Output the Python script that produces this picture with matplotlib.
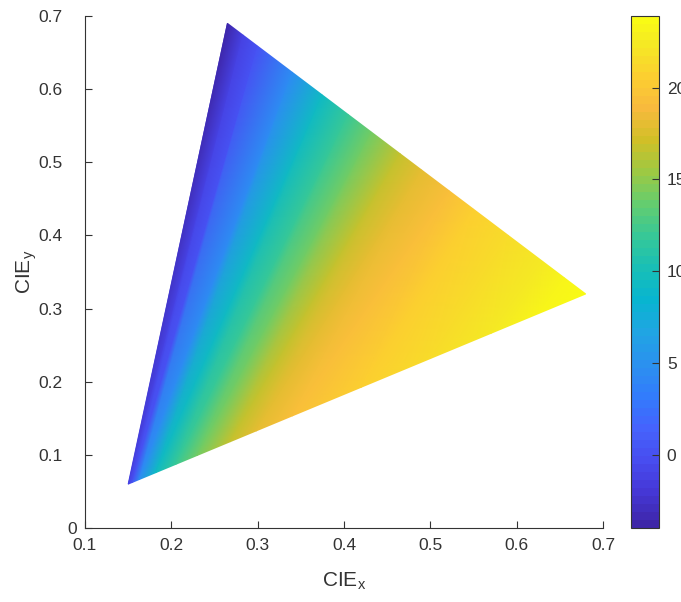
import numpy as np
import matplotlib
matplotlib.use("Agg")
import matplotlib.pyplot as plt
import matplotlib.tri as mtri
import matplotlib.transforms as mtrans
from matplotlib.colors import LinearSegmentedColormap

plt.rcParams['font.family'] = ['Liberation Sans', 'DejaVu Sans']

# gamut triangle (green, red, blue primaries)
green_xy = (0.265, 0.690)
red_xy = (0.680, 0.320)
blue_xy = (0.150, 0.060)

# iso-value lines: where each one meets the
# upper edge (green->red) and the lower edge (blue->red)
top_x = [0.265, 0.283, 0.300, 0.340, 0.375, 0.405, 0.432, 0.465, 0.490, 0.522, 0.550, 0.590, 0.630, 0.655, 0.680]
top_val = [-4.0, -1.0, 0.0, 4.5, 9.5, 12.0, 14.0, 16.5, 18.0, 19.5, 20.5, 21.5, 22.5, 23.3, 23.9]
bot_x = [0.150, 0.1505, 0.155, 0.163, 0.182, 0.205, 0.230, 0.268, 0.298, 0.340, 0.420, 0.500, 0.570, 0.625, 0.680]
bot_val = [-1.0, -1.0, 0.0, 4.5, 9.5, 12.0, 14.0, 16.5, 18.0, 19.5, 20.5, 21.5, 22.5, 23.3, 23.9]

cbar_ticks = [0, 5, 10, 15, 20]
clim = (-4.0, 23.9)

# parula-like colormap
parula_pts = [
    (0.2422, 0.1504, 0.6603), (0.2706, 0.2147, 0.8364), (0.2813, 0.3006, 0.9414),
    (0.2699, 0.3892, 0.9906), (0.1963, 0.4847, 0.9892), (0.1687, 0.5703, 0.9359),
    (0.1248, 0.6459, 0.8883), (0.0297, 0.7082, 0.8163), (0.0964, 0.7500, 0.7120),
    (0.2161, 0.7843, 0.5923), (0.3909, 0.8029, 0.4354), (0.6174, 0.7876, 0.2612),
    (0.8203, 0.7498, 0.1535), (0.9728, 0.7298, 0.2394), (0.9892, 0.8136, 0.1885),
    (0.9597, 0.9135, 0.1423), (0.9769, 0.9839, 0.0805)]
pos = [i * 4 / 63 for i in range(16)] + [1.0]
parula = LinearSegmentedColormap.from_list('parula', list(zip(pos, parula_pts)), N=64)

top_x = np.array(top_x)
bot_x = np.array(bot_x)
top_y = np.interp(top_x, [green_xy[0], red_xy[0]], [green_xy[1], red_xy[1]])
bot_y = np.interp(bot_x, [blue_xy[0], red_xy[0]], [blue_xy[1], red_xy[1]])

n = len(top_x)
px = np.concatenate([top_x, bot_x])
py = np.concatenate([top_y, bot_y])
pv = np.concatenate([top_val, bot_val])
tris = []
for i in range(n - 1):
    tris.append([i, n + i, n + i + 1])
    tris.append([i, n + i + 1, i + 1])
tri = mtri.Triangulation(px, py, np.array(tris))

fig = plt.figure(figsize=(6.81, 6.02), dpi=100)
ax = fig.add_axes([0.1248, 0.1229, 0.7607, 0.8505])
tpc = ax.tripcolor(tri, pv, shading='gouraud', cmap=parula, vmin=clim[0], vmax=clim[1])

ax.set_xlim(0.1, 0.7)
ax.set_ylim(0, 0.7)
ax.set_xticks(np.arange(0.1, 0.71, 0.1))
ax.set_yticks(np.arange(0, 0.71, 0.1))
ax.set_xticklabels(['0.1', '0.2', '0.3', '0.4', '0.5', '0.6', '0.7'])
ax.set_yticklabels(['0', '0.1', '0.2', '0.3', '0.4', '0.5', '0.6', '0.7'])
for s in ['top', 'right']:
    ax.spines[s].set_visible(False)
for s in ['left', 'bottom']:
    ax.spines[s].set_color('#333333')
    ax.spines[s].set_linewidth(0.8)
ax.tick_params(direction='in', length=5, width=0.8, color='#333333',
               labelcolor='#333333', labelsize=12.5)
ax.tick_params(axis='x', pad=7)
ax.tick_params(axis='y', pad=16)
ax.set_xlabel('CIE$_\\mathregular{x}$', fontsize=15, color='#333333', labelpad=13)
ax.set_ylabel('CIE$_\\mathregular{y}$', fontsize=15, color='#333333', labelpad=0)

# the "0" on the y axis sits closer to the axis in the original
zero_lbl = ax.yaxis.get_major_ticks()[0].label1
zero_lbl.set_transform(zero_lbl.get_transform() +
                       mtrans.ScaledTranslation(10 / 72, 0, fig.dpi_scale_trans))

cax = fig.add_axes([0.927, 0.1229, 0.040, 0.8505])
cb = fig.colorbar(tpc, cax=cax, ticks=cbar_ticks)
cb.outline.set_edgecolor('#333333')
cb.outline.set_linewidth(0.8)
cax.tick_params(direction='in', length=5, width=0.8, color='#333333',
                labelcolor='#333333', labelsize=12.5, pad=6)

fig.savefig('out.png', dpi=100)
